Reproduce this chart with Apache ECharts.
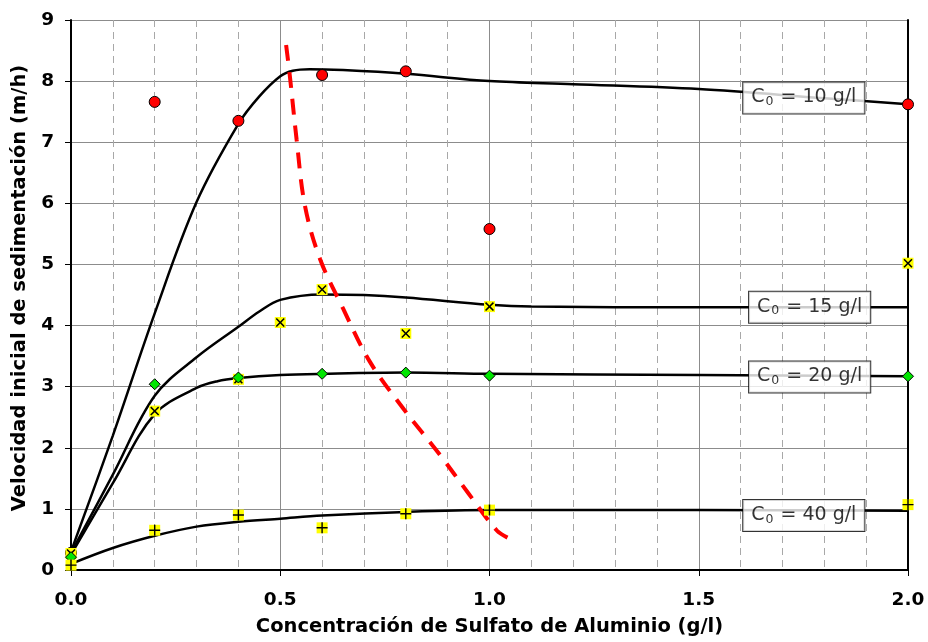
<!DOCTYPE html>
<html>
<head>
<meta charset="utf-8">
<script src="https://cdn.jsdelivr.net/npm/echarts@6/dist/echarts.min.js"></script>
<style>
  html, body { margin: 0; padding: 0; background: #fff; }
  #chart { width: 928px; height: 642px; }
</style>
</head>
<body>
<div id="chart"></div>
<script>
// Dosis de sulfato de aluminio (g/l) de los ensayos
const dosisA = [0, 0.2, 0.4, 0.6, 0.8, 1.0, 2.0];
const dosisB = [0, 0.2, 0.4, 0.5, 0.6, 0.8, 1.0, 2.0];

// Velocidad inicial medida (m/h) para cada concentración inicial C0
const vel10 = [0.28, 7.66, 7.35, 8.10, 8.16, 5.58, 7.62];
const vel15 = [0.27, 2.60, 3.12, 4.05, 4.59, 3.87, 4.31, 5.02];
const vel20 = [0.21, 3.04, 3.15, 3.21, 3.23, 3.18, 3.17];
const vel40 = [0.08, 0.65, 0.90, 0.69, 0.92, 0.98, 1.07];

// Curvas de ajuste
const ajuste10X = [0, 0.1, 0.2, 0.3, 0.4, 0.45, 0.5, 0.53, 0.57, 0.65, 0.8, 1.0, 1.2, 1.5, 1.8, 2.0];
const ajuste10Y = [0.30, 2.20, 4.20, 6.02, 7.30, 7.75, 8.08, 8.17, 8.195, 8.18, 8.12, 8.00, 7.95, 7.87, 7.72, 7.62];
const ajuste15X = [0, 0.1, 0.2, 0.3, 0.4, 0.45, 0.5, 0.6, 0.7, 0.8, 1.0, 1.1, 1.5, 2.0];
const ajuste15Y = [0.28, 1.56, 2.85, 3.48, 3.98, 4.23, 4.42, 4.51, 4.50, 4.46, 4.34, 4.31, 4.30, 4.30];
const ajuste20X = [0, 0.1, 0.2, 0.3, 0.35, 0.4, 0.5, 0.6, 0.8, 1.0, 1.5, 2.0];
const ajuste20Y = [0.25, 1.42, 2.55, 2.98, 3.09, 3.14, 3.19, 3.21, 3.23, 3.21, 3.19, 3.17];
const ajuste40X = [0, 0.1, 0.2, 0.3, 0.4, 0.5, 0.6, 0.8, 1.0, 1.5, 2.0];
const ajuste40Y = [0.10, 0.36, 0.56, 0.71, 0.79, 0.84, 0.89, 0.95, 0.98, 0.98, 0.97];

// Línea de dosis óptima (trazo rojo discontinuo)
const optimaX = [0.514, 0.523, 0.539, 0.559, 0.595, 0.65, 0.714, 0.793, 0.882, 0.949, 1.017, 1.043];
const optimaY = [8.59, 8.08, 7.05, 5.96, 5.09, 4.28, 3.41, 2.65, 1.88, 1.26, 0.65, 0.53];

// Rótulos de cada curva
const rotuloC0 = ['10', '15', '20', '40'];
const rotuloX = [1.751, 1.765, 1.765, 1.751];
const rotuloY = [7.725, 4.30, 3.16, 0.89];

const ticksX = [0, 0.5, 1.0, 1.5, 2.0];

const FONT = 'DejaVu Sans';
const zip = (xs, ys) => xs.map((x, i) => [x, ys[i]]);

// Símbolos: aspa y cruz dibujadas sobre un cuadrado amarillo
const ASPA = 'path://M1.2,0 L5,3.8 L8.8,0 L10,1.2 L6.2,5 L10,8.8 L8.8,10 L5,6.2 L1.2,10 L0,8.8 L3.8,5 L0,1.2 Z';
const CRUZ = 'path://M4.35,0 H5.65 V4.35 H10 V5.65 H5.65 V10 H4.35 V5.65 H0 V4.35 H4.35 Z';

function curva(xs, ys) {
  return {
    type: 'line', data: zip(xs, ys), smooth: 0.35,
    symbol: 'none', silent: true, z: 2,
    lineStyle: { color: '#000', width: 2.5 }
  };
}

function puntos(xs, ys, symbol, size, color, border, z) {
  return {
    type: 'scatter', data: zip(xs, ys), symbol: symbol, symbolSize: size, z: z, silent: true,
    itemStyle: { color: color, borderColor: border ? '#000' : null, borderWidth: border ? 1 : 0, opacity: 1 }
  };
}

const option = {
  animation: false,
  backgroundColor: '#fff',
  grid: { left: 71, right: 20, top: 20, bottom: 70, containLabel: false },
  xAxis: {
    type: 'value', min: 0, max: 2, interval: 0.5,
    name: 'Concentración de Sulfato de Aluminio (g/l)',
    nameLocation: 'middle', nameGap: 47,
    nameTextStyle: { fontFamily: FONT, fontWeight: 'bold', fontSize: 19.5, color: '#000' },
    axisLine: { show: true, onZero: false, lineStyle: { color: '#000', width: 2 } },
    axisTick: { show: true, inside: false, length: 6, lineStyle: { color: '#000', width: 1 } },
    axisLabel: {
      fontFamily: FONT, fontWeight: 'bold', fontSize: 18.5, color: '#000', margin: 21,
      formatter: v => ticksX.includes(v) ? v.toFixed(1) : ''
    },
    splitLine: { show: true, lineStyle: { color: '#8c8c8c', width: 1 } },
    minorTick: { show: false, splitNumber: 5 },
    minorSplitLine: { show: true, lineStyle: { color: '#a8a8a8', width: 1, type: [7, 5] } }
  },
  yAxis: [{
    type: 'value', min: 0, max: 9, interval: 1,
    name: 'Velocidad inicial de sedimentación (m/h)',
    nameLocation: 'middle', nameGap: 37,
    nameTextStyle: { fontFamily: FONT, fontWeight: 'bold', fontSize: 19.5, color: '#000', padding: [0, 0, 0, 14] },
    axisLine: { show: true, onZero: false, lineStyle: { color: '#000', width: 2 } },
    axisTick: { show: true, inside: false, length: 6, lineStyle: { color: '#000', width: 1 } },
    axisLabel: { fontFamily: FONT, fontWeight: 'bold', fontSize: 18.5, color: '#000', margin: 17 },
    splitLine: { show: true, lineStyle: { color: '#8c8c8c', width: 1 } }
  }, {
    type: 'value', min: 0, max: 9, interval: 1, position: 'right',
    axisLine: { show: true, onZero: false, lineStyle: { color: '#000', width: 2 } },
    axisTick: { show: false }, axisLabel: { show: false }, splitLine: { show: false }
  }],
  series: [
    curva(ajuste10X, ajuste10Y),
    curva(ajuste15X, ajuste15Y),
    curva(ajuste20X, ajuste20Y),
    curva(ajuste40X, ajuste40Y),
    {
      type: 'line', data: zip(optimaX, optimaY), smooth: 0.35,
      symbol: 'none', silent: true, z: 3,
      lineStyle: { color: '#ff0000', width: 4, type: [16, 11], cap: 'butt' }
    },
    {
      type: 'scatter', silent: true, z: 4, symbol: 'rect', symbolSize: 2,
      itemStyle: { color: 'rgba(0,0,0,0)' },
      data: rotuloC0.map((c, i) => ({ value: [rotuloX[i], rotuloY[i]], name: c })),
      label: {
        show: true, position: 'inside',
        formatter: p => '{c|C}{s|0}{c| = ' + p.name + ' g/l}',
        backgroundColor: '#fff', borderColor: '#000', borderWidth: 1,
        padding: [4, 8, 5, 8],
        rich: {
          c: { fontFamily: FONT, fontSize: 19, lineHeight: 22, color: '#000' },
          s: { fontFamily: FONT, fontSize: 12.5, lineHeight: 12, color: '#000', verticalAlign: 'bottom', padding: [0, 1, 0, 1] }
        }
      }
    },
    puntos(dosisA, vel10, 'circle', 11, '#ff0000', true, 5),
    puntos(dosisB, vel15, 'rect', 11, '#ffff00', false, 6),
    puntos(dosisB, vel15, ASPA, 9, '#000', false, 7),
    puntos(dosisA, vel20, 'diamond', 11, '#00e600', true, 8),
    puntos(dosisA, vel40, 'rect', 11, '#ffff00', false, 9),
    puntos(dosisA, vel40, CRUZ, 11, '#000', false, 10)
  ]
};

const chart = echarts.init(document.getElementById('chart'), null, { renderer: 'canvas' });
chart.setOption(option);
</script>
</body>
</html>
